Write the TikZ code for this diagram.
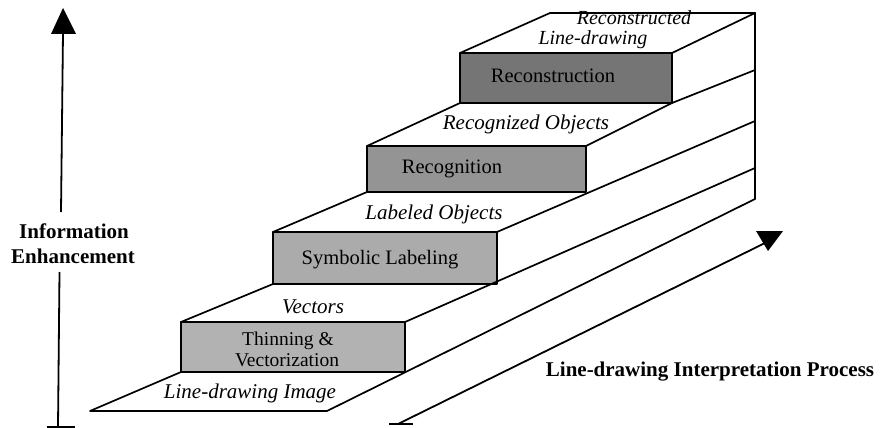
\documentclass[tikz,border=0pt]{standalone}
\usepackage{fontspec}
\setmainfont{Liberation Serif}
\tikzset{
  edge/.style={line width=1.7pt, line join=round, line cap=round},
  riser/.style={edge, draw=black},
  shaft/.style={line width=1.8pt, line cap=butt},
  head/.style={fill=black},
  itl/.style={font=\fontsize{21}{21}\selectfont\itshape, inner sep=0pt, anchor=base},
  itlsm/.style={font=\fontsize{20}{20}\selectfont\itshape, inner sep=0pt, anchor=base},
  rom/.style={font=\fontsize{20.5}{20.5}\selectfont, inner sep=0pt, anchor=base},
  romsm/.style={font=\fontsize{19.5}{19.5}\selectfont, inner sep=0pt, anchor=base},
  axislbl/.style={font=\fontsize{21}{21}\selectfont\bfseries, inner sep=0pt, anchor=base},
}
\definecolor{shadeA}{gray}{0.70}
\definecolor{shadeB}{gray}{0.67}
\definecolor{shadeC}{gray}{0.58}
\definecolor{shadeD}{gray}{0.46}
\begin{document}
\begin{tikzpicture}[x=1pt,y=-1pt]
\useasboundingbox (0,0) rectangle (884,428);

% ---------- corners of the staircase ----------
% ground slab
\coordinate (g-fl) at (90,411);
\coordinate (g-fr) at (327,411);
\coordinate (g-back) at (755,199);
% riser 1: thinning & vectorization
\coordinate (r1-tl) at (181,322); \coordinate (r1-br) at (405,372);
\coordinate (r1-bl) at (181,372); \coordinate (r1-tr) at (405,322);
% riser 2: symbolic labeling
\coordinate (r2-tl) at (273,232); \coordinate (r2-br) at (497,284);
\coordinate (r2-bl) at (273,284); \coordinate (r2-tr) at (497,232);
% riser 3: recognition
\coordinate (r3-tl) at (367,146); \coordinate (r3-br) at (586,192);
\coordinate (r3-bl) at (367,192); \coordinate (r3-tr) at (586,146);
% riser 4: reconstruction
\coordinate (r4-tl) at (460,53); \coordinate (r4-br) at (672,103);
\coordinate (r4-bl) at (460,103); \coordinate (r4-tr) at (672,53);
% back ends of the treads
\coordinate (t1-back) at (755,168);
\coordinate (t2-back) at (755,121);
\coordinate (t3-back) at (755,70);
\coordinate (t4-back) at (755,13);
\coordinate (t4-bl) at (550,13);

% ---------- risers ----------
\draw[riser, fill=shadeA] (r1-tl) rectangle (r1-br);
\draw[riser, fill=shadeB] (r2-tl) rectangle (r2-br);
\draw[riser, fill=shadeC] (r3-tl) rectangle (r3-br);
\draw[riser, fill=shadeD] (r4-tl) rectangle (r4-br);

% ---------- treads ----------
\draw[edge] (r1-bl) -- (g-fl) -- (g-fr) -- (g-back);
\draw[edge] (r1-tl) -- (r2-bl);
\draw[edge] (r1-tr) -- (t1-back);
\draw[edge] (r2-tl) -- (r3-bl);
\draw[edge] (r2-tr) -- (t2-back);
\draw[edge] (r3-tl) -- (r4-bl);
\draw[edge] (r3-tr) -- (r4-br) -- (t3-back);
\draw[edge] (r4-tl) -- (t4-bl) -- (t4-back);
\draw[edge] (r4-tr) -- (t4-back);
\draw[edge] (t4-back) -- (g-back);

% ---------- labels on the steps ----------
\node[itl] (img) at (250,398) {Line-drawing Image};
\node[romsm] (thin) at (288,345) {Thinning \&};
\node[romsm] (vecz) at (287,366) {Vectorization};
\node[itl] (vec) at (313,313) {Vectors};
\node[rom] (sym) at (380,264) {Symbolic Labeling};
\node[itl] (lab) at (434,219) {Labeled Objects};
\node[rom] (rec) at (452,173) {Recognition};
\node[itl] (recobj) at (526,129) {Recognized Objects};
\node[rom] (recon) at (553,82) {Reconstruction};
\node[itlsm] (reconed) at (634,25) {Reconstructed};
\node[itlsm] (reconld) at (593,45) {Line-drawing};

% ---------- vertical axis ----------
\node[axislbl] (info) at (74,238) {Information};
\node[axislbl] (enh) at (73,263) {Enhancement};
\coordinate (v-foot) at (58,427);
\coordinate (v-low) at (59.5,272);
\coordinate (v-up) at (61,212);
\coordinate (v-top) at (63,33);
\draw[shaft] (v-foot) -- (v-low);
\draw[shaft] (v-up) -- (v-top);
\draw[shaft] (47,427) -- (75,427);
\coordinate (vh-l) at (51,34); \coordinate (vh-r) at (76,34); \coordinate (vh-t) at (63,8);
\fill[head] (vh-l) -- (vh-r) -- (vh-t) -- cycle;

% ---------- process axis ----------
\node[axislbl] (proc) at (710,376) {Line-drawing Interpretation Process};
\coordinate (d-foot) at (398,424);
\coordinate (d-end) at (765,243);
\draw[shaft] (d-foot) -- (d-end);
\draw[shaft] (389,424) -- (413,424);
\coordinate (dh-l) at (756,231); \coordinate (dh-r) at (783,231); \coordinate (dh-b) at (768,251);
\fill[head] (dh-l) -- (dh-r) -- (dh-b) -- cycle;
\end{tikzpicture}
\end{document}
